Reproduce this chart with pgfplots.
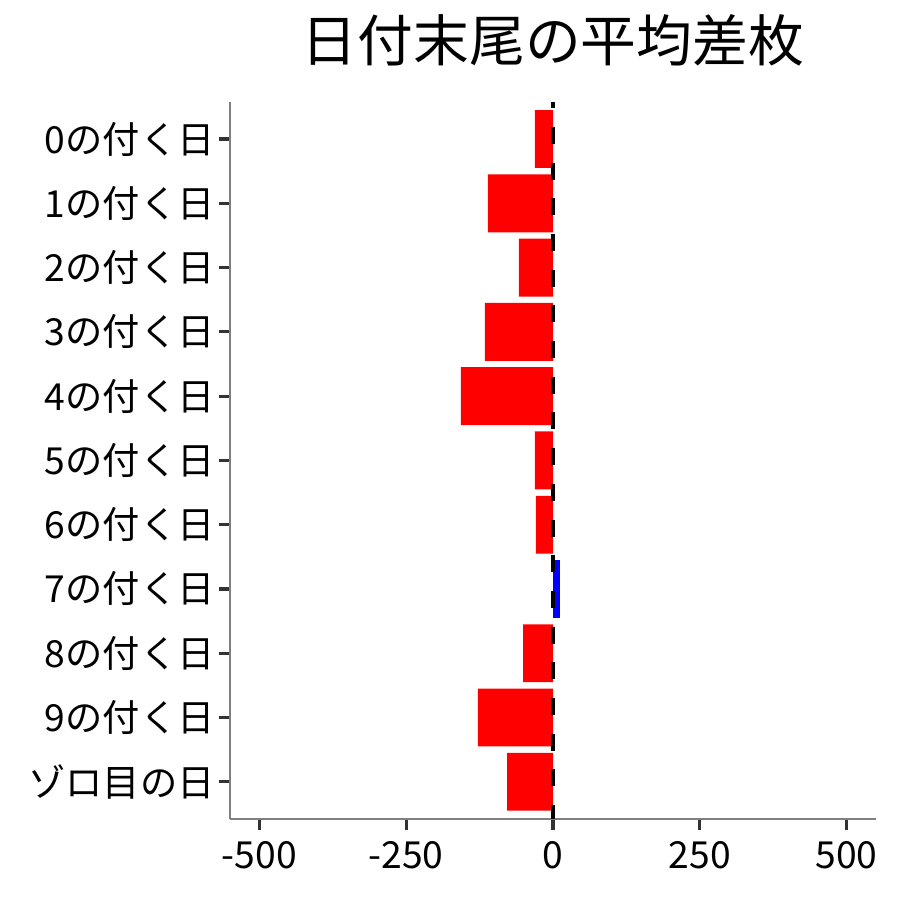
\documentclass[border=0pt]{standalone}
\usepackage{fontspec}
\setmainfont{Noto Sans CJK JP}
\usepackage{pgfplots}
\pgfplotsset{compat=1.18}

\definecolor{barred}{RGB}{255,0,0}
\definecolor{barblue}{RGB}{0,0,255}
\definecolor{axisgray}{RGB}{128,128,128}
\definecolor{tickgray}{RGB}{51,51,51}

\begin{document}
\begin{tikzpicture}
% fixed page: 900px = 450bp
\path[use as bounding box] (-115bp,-40.5bp) rectangle (335bp,409.5bp);

\begin{axis}[
    at={(0,0)}, anchor=south west,
    scale only axis,
    width=323bp, height=358.6bp,
    xmin=-550, xmax=550,
    ymin=-0.58, ymax=10.58,
    y dir=reverse,
    axis x line*=bottom,
    axis y line*=left,
    axis line style={axisgray, line width=0.7bp, -},
    xtick={-500,-250,0,250,500},
    xticklabels={-500,-250,0,250,500},
    ytick={0,...,10},
    yticklabels={0の付く日,1の付く日,2の付く日,3の付く日,4の付く日,5の付く日,
                 6の付く日,7の付く日,8の付く日,9の付く日,ゾロ目の日},
    tick align=outside,
    major tick length=5.5bp,
    tick style={tickgray, line width=1.6bp},
    ticklabel style={font=\fontsize{18.7}{20}\selectfont, black},
    xticklabel style={anchor=base, inner sep=0pt, yshift=-19bp},
    yticklabel style={anchor=east, inner sep=0pt, xshift=-2bp},
    title={日付末尾の平均差枚},
    title style={font=\fontsize{28}{30}\selectfont, at={(0.5,1)},
                 anchor=base, inner sep=0pt, yshift=14bp},
]

% mean difference per date ending
\addplot[xbar, bar width=0.9, bar shift=0pt, fill=barred, draw=none] coordinates {
(-31,0) (-111,1) (-58,2) (-116,3) (-157,4) (-31,5)
(-29,6) (-51,8) (-128,9) (-78,10)
};
\addplot[xbar, bar width=0.9, bar shift=0pt, fill=barblue, draw=none] coordinates {
(12,7)
};

% zero line
\addplot[black, line width=2.3bp, dash pattern=on 8.5bp off 9.35bp, dash phase=5.35bp]
  coordinates {(0,-0.58) (0,10.58)};

\end{axis}
\end{tikzpicture}
\end{document}
